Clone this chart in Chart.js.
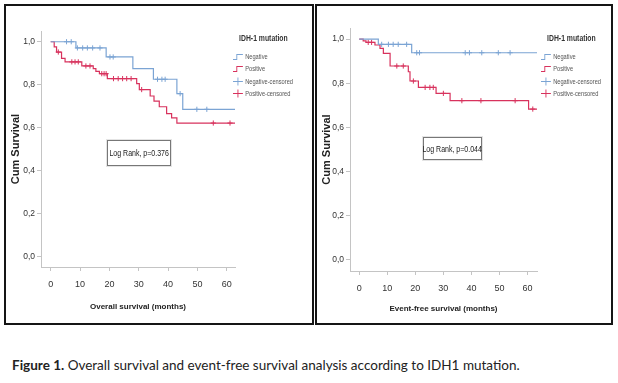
<!DOCTYPE html>
<html>
<head>
<meta charset="utf-8">
<script src="https://cdn.jsdelivr.net/npm/chart.js@4.4.1/dist/chart.umd.min.js"></script>
<style>
  body { margin: 0; background: #fff; width: 618px; height: 383px; position: relative; overflow: hidden; }
  .panel { position: absolute; border: 2px solid #151515; box-sizing: border-box; }
  canvas { position: absolute; }
  .legend { position: absolute; font-family: 'Liberation Sans', Arial, sans-serif; font-size: 7.5px; color: #555;
    transform: scaleX(0.76); transform-origin: left top; white-space: nowrap; }
  .legend .ttl { font-weight: bold; font-size: 9px; color: #333; margin-left: 8px; height: 17px; line-height: 10px; }
  .legend .item { display: flex; align-items: center; height: 12.5px; }
  .legend svg { margin-right: 3px; }
  .logrank { position: absolute; border: 1px solid #777; box-shadow: 0 0 0 1px #e4e4e4; background: #fff;
    display: flex; align-items: center; justify-content: center; overflow: visible; }
  .logrank span { font-family: 'Liberation Sans', Arial, sans-serif; font-size: 9px; color: #222; white-space: nowrap;
    display: inline-block; transform: scaleX(0.78); }
  .caption { position: absolute; left: 12px; top: 357px; font-family: Lato, 'Open Sans', sans-serif; font-size: 13.5px; color: #222; white-space: nowrap; }
</style>
</head>
<body>
<div class="panel" style="left:4px; top:4px; width:310px; height:321px;"></div>
<div class="panel" style="left:315px; top:4px; width:298px; height:321px;"></div>

<canvas id="osChart" width="240" height="310" style="left:6px; top:7px;"></canvas>
<canvas id="efsChart" width="230" height="310" style="left:318px; top:7px;"></canvas>

<div class="legend" id="osLegend" style="left:233px; top:33px;"></div>
<div class="legend" id="efsLegend" style="left:541px; top:33px;"></div>

<div class="logrank" style="left:107px; top:140px; width:62px; height:24px;"><span>Log Rank, p=0.376</span></div>
<div class="logrank" style="left:423px; top:137px; width:57px; height:21px;"><span>Log Rank, p=0.044</span></div>

<div class="caption"><b>Figure 1.</b> Overall survival and event-free survival analysis according to IDH1 mutation.</div>

<script>
// legenda / series
const legendTitle = 'IDH-1 mutation';
const seriesNames = ['Negative', 'Positive', 'Negative-censored', 'Positive-censored'];
const blue = '#7ba4d4';
const red = '#d8325d';

// Overall survival - Negative
const osNegTimes = [0, 8.6, 18.9, 28.0, 35.0, 43.0, 45.0, 62.8];
const osNegSurv = [1.0, 0.971, 0.929, 0.875, 0.825, 0.758, 0.685, 0.685];
const osNegCensTimes = [5.4, 7.0, 9.1, 10.9, 12.5, 14.3, 16.8, 20.2, 21.3, 36.4, 37.9, 39.0, 44.1, 49.8, 53.2];
const osNegCensSurv = [1.0, 1.0, 0.971, 0.971, 0.971, 0.971, 0.971, 0.929, 0.929, 0.825, 0.825, 0.825, 0.758, 0.685, 0.685];

// Overall survival - Positive
const osPosTimes = [0, 1.2, 2.0, 3.7, 4.9, 10.6, 14.5, 15.4, 16.6, 19.3, 29.3, 30.2, 33.9, 35.2, 37.0, 39.5, 41.2, 43.0, 62.8];
const osPosSurv = [1.0, 0.976, 0.952, 0.922, 0.906, 0.887, 0.875, 0.862, 0.851, 0.828, 0.805, 0.777, 0.747, 0.723, 0.697, 0.665, 0.645, 0.621, 0.621];
const osPosCensTimes = [2.6, 7.2, 8.3, 9.4, 12.0, 13.4, 17.4, 18.2, 18.9, 21.4, 23.0, 24.5, 25.9, 27.4, 31.0, 55.4, 61.1];
const osPosCensSurv = [0.952, 0.906, 0.906, 0.906, 0.887, 0.887, 0.851, 0.851, 0.851, 0.828, 0.828, 0.828, 0.828, 0.828, 0.777, 0.621, 0.621];

// Event-free survival - Negative
const efsNegTimes = [0, 6.8, 18.7, 63.4];
const efsNegSurv = [1.0, 0.976, 0.938, 0.938];
const efsNegCensTimes = [8.0, 10.4, 12.1, 13.9, 16.9, 20.5, 21.5, 37.8, 39.3, 43.7, 49.6, 53.8];
const efsNegCensSurv = [0.976, 0.976, 0.976, 0.976, 0.976, 0.938, 0.938, 0.938, 0.938, 0.938, 0.938, 0.938];

// Event-free survival - Positive
const efsPosTimes = [0, 1.4, 2.4, 5.6, 7.4, 8.6, 11.0, 17.5, 18.1, 21.1, 27.4, 32.4, 60.4, 63.4];
const efsPosSurv = [1.0, 0.992, 0.985, 0.973, 0.958, 0.935, 0.878, 0.852, 0.81, 0.781, 0.754, 0.721, 0.683, 0.683];
const efsPosCensTimes = [3.2, 4.4, 13.4, 15.7, 19.3, 23.5, 25.2, 26.4, 30.0, 36.6, 43.4, 55.6, 61.9];
const efsPosCensSurv = [0.985, 0.985, 0.878, 0.878, 0.81, 0.781, 0.781, 0.781, 0.754, 0.721, 0.721, 0.721, 0.683];

const xTicks = [0, 10, 20, 30, 40, 50, 60];
const yTicks = [0.0, 0.2, 0.4, 0.6, 0.8, 1.0];

const sans = "'Liberation Sans', Arial, sans-serif";
const axisGray = '#c4c4c4';

function pts(xs, ys) {
    return xs.map((x, i) => ({ x: x, y: ys[i] }));
}

function kmChart(id, xTitle, neg, pos, negC, posC, box) {
    const ctx = document.getElementById(id);
    new Chart(ctx, {
        type: 'line',
        data: {
            datasets: [
                { label: seriesNames[0], data: neg, borderColor: blue, borderWidth: 1.2, stepped: 'before', pointRadius: 0, fill: false },
                { label: seriesNames[1], data: pos, borderColor: red, borderWidth: 1.2, stepped: 'before', pointRadius: 0, fill: false },
                { label: seriesNames[2], data: negC, showLine: false, pointStyle: 'cross', pointRadius: 2.6, pointBorderWidth: 1, borderColor: blue, backgroundColor: blue },
                { label: seriesNames[3], data: posC, showLine: false, pointStyle: 'cross', pointRadius: 2.6, pointBorderWidth: 1, borderColor: red, backgroundColor: red }
            ]
        },
        options: {
            responsive: false,
            animation: false,
            events: [],
            layout: { padding: { top: box.top, right: box.right, left: 0, bottom: 0 } },
            plugins: { legend: { display: false }, tooltip: { enabled: false } },
            scales: {
                x: {
                    type: 'linear',
                    min: -3.3,
                    max: box.xmax,
                    afterFit: s => { s.height = box.xh; },
                    afterBuildTicks: s => { s.ticks = xTicks.map(v => ({ value: v })); },
                    ticks: { color: '#333', padding: 8, font: { family: sans, size: 9 } },
                    grid: { drawOnChartArea: false, tickLength: 4, color: axisGray },
                    border: { color: axisGray },
                    title: { display: true, text: xTitle, color: '#222', padding: { top: 0, bottom: box.xtp }, font: { family: sans, size: 8, weight: 'bold' } }
                },
                y: {
                    min: -0.05,
                    max: 1.05,
                    afterFit: s => { s.width = box.yw; },
                    afterBuildTicks: s => { s.ticks = yTicks.map(v => ({ value: v })); },
                    ticks: { color: '#333', padding: 2, font: { family: sans, size: 8.5 }, callback: v => v.toFixed(1).replace('.', ',') },
                    grid: { drawOnChartArea: false, tickLength: 4, color: axisGray },
                    border: { color: axisGray },
                    title: { display: true, text: 'Cum Survival', color: '#222', padding: { top: box.ytp, bottom: 0 }, font: { family: sans, size: 11, weight: 'bold' } }
                }
            }
        }
    });
}

function legendIcon(i, color) {
    if (i < 2) {
        return '<svg width="13" height="9"><path d="M0 7.5 H5 V2.5 H13" stroke="' + color + '" stroke-width="1.2" fill="none"/></svg>';
    }
    return '<svg width="13" height="9"><path d="M0 4.5 H13 M6.5 0.5 V8.5" stroke="' + color + '" stroke-width="1.2" fill="none"/></svg>';
}

function buildLegend(id) {
    const el = document.getElementById(id);
    const colors = [blue, red, blue, red];
    let html = '<div class="ttl">' + legendTitle + '</div>';
    seriesNames.forEach((name, i) => {
        html += '<div class="item">' + legendIcon(i, colors[i]) + '<span>' + name + '</span></div>';
    });
    el.innerHTML = html;
}

kmChart('osChart', 'Overall survival (months)',
    pts(osNegTimes, osNegSurv), pts(osPosTimes, osPosSurv),
    pts(osNegCensTimes, osNegCensSurv), pts(osPosCensTimes, osPosCensSurv),
    { top: 24, right: 11, xmax: 62.8, xh: 50, yw: 35, xtp: 5, ytp: 3.5 });

kmChart('efsChart', 'Event-free survival (months)',
    pts(efsNegTimes, efsNegSurv), pts(efsPosTimes, efsPosSurv),
    pts(efsNegCensTimes, efsNegCensSurv), pts(efsPosCensTimes, efsPosCensSurv),
    { top: 21, right: 11, xmax: 63.4, xh: 46, yw: 32, xtp: 3, ytp: 2 });

buildLegend('osLegend');
buildLegend('efsLegend');
</script>
</body>
</html>
